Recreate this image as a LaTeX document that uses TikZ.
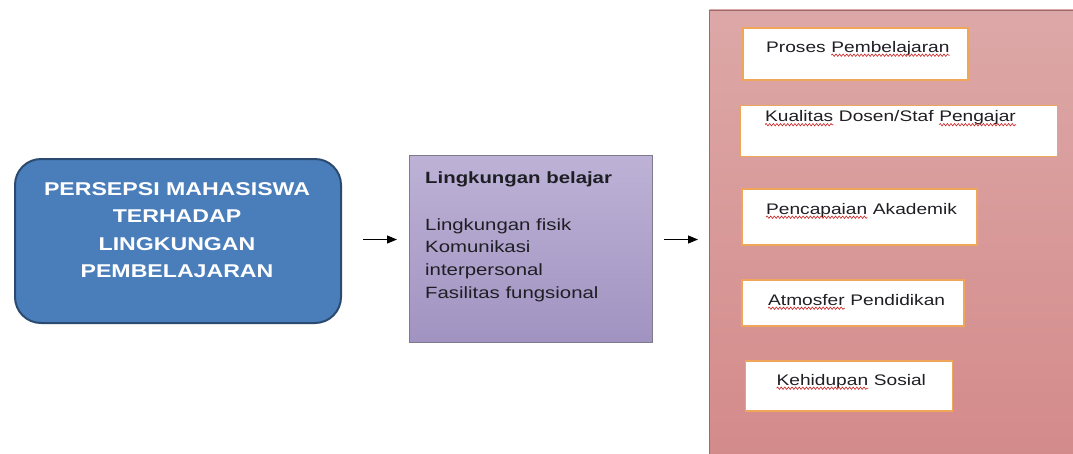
\documentclass[tikz,border=0pt]{standalone}
\usepackage{fontspec}
\setmainfont{Liberation Sans}[FakeStretch=1.25]
\usetikzlibrary{arrows.meta,decorations.pathmorphing}
\definecolor{blueFill}{HTML}{4A7EBB}
\definecolor{blueLine}{HTML}{2B4A6F}
\definecolor{purpTop}{HTML}{BDB2D6}
\definecolor{purpBot}{HTML}{A193C1}
\definecolor{purpLine}{HTML}{7F7A8C}
\definecolor{redTop}{HTML}{DCA8A7}
\definecolor{redBot}{HTML}{D48A8A}
\definecolor{redLine}{HTML}{9C6A6A}
\definecolor{orangeLine}{HTML}{EFA55A}
\definecolor{spellRed}{HTML}{C8201E}
\definecolor{textDark}{HTML}{1E1E24}
\tikzset{
  bluebox/.style={draw=blueLine, line width=2pt, fill=blueFill, rounded corners=26pt, anchor=north west, inner sep=0pt},
  bluetext/.style={text=white, align=center, font=\fontsize{18.5}{27.5}\selectfont\bfseries, inner sep=0pt},
  purplebox/.style={draw=purpLine, line width=0.8pt, top color=purpTop, bottom color=purpBot, anchor=north west, inner sep=0pt},
  redbox/.style={draw=redLine, line width=0.8pt, top color=redTop, bottom color=redBot, anchor=north west, inner sep=0pt},
  itembox/.style={draw=orangeLine, line width=1.8pt, fill=white, anchor=north west, inner sep=0pt},
  itemtext/.style={anchor=base west, inner sep=0pt, text=textDark, font=\fontsize{15.3}{18}\selectfont},
  wave/.style={draw=spellRed, line width=0.6pt, decorate, decoration={snake, segment length=3.6pt, amplitude=1.2pt}},
  arr/.style={draw=black, line width=1.1pt, -{Triangle[length=10pt,width=8pt]}},
}
\begin{document}
\begin{tikzpicture}[x=1pt,y=-1pt]
\useasboundingbox[fill=white] (0,0) rectangle (1073,453);
% left box
\node[bluebox, minimum width=326pt, minimum height=164pt] (persepsi) at (14,158) {};
\node[bluetext] (persepsiText) at (177,230) {PERSEPSI MAHASISWA\\TERHADAP\\LINGKUNGAN\\PEMBELAJARAN};
% middle box
\node[purplebox, minimum width=243pt, minimum height=187pt] (lingkungan) at (409,155) {};
\node[anchor=base west, inner sep=0pt, text=textDark, font=\fontsize{16.3}{20}\selectfont\bfseries] (lingTitle) at (425,183) {Lingkungan belajar};
\node[anchor=base west, inner sep=0pt, text=textDark, align=left, font=\fontsize{16.3}{22.8}\selectfont] (lingList) at (425,298.5) {Lingkungan fisik\\Komunikasi\\interpersonal\\Fasilitas fungsional};
% right box
\node[redbox, minimum width=370pt, minimum height=450pt] (faktor) at (709,9.5) {};
\node[itembox, minimum width=225pt, minimum height=52pt] (proses) at (742,27) {};
\node[itembox, minimum width=317pt, minimum height=51pt] (kualitas) at (739.5,104.5) {};
\node[itembox, minimum width=235pt, minimum height=56pt] (pencapaian) at (741,188) {};
\node[itembox, minimum width=222pt, minimum height=46pt] (atmosfer) at (741,279) {};
\node[itembox, minimum width=207pt, minimum height=50pt] (kehidupan) at (744.5,360) {};
% item texts
\node[itemtext] (prosesA) at (766,52) {Proses\ \null};
\node[itemtext] (prosesB) at (prosesA.base east) {Pembelajaran};
\node[itemtext] (kualitasA) at (765,121.5) {Kualitas};
\node[itemtext] (kualitasB) at (kualitasA.base east) {\ Dosen/Staf\ \null};
\node[itemtext] (kualitasC) at (kualitasB.base east) {Pengajar};
\node[itemtext] (pencapaianA) at (766,214) {Pencapaian};
\node[itemtext] (pencapaianB) at (pencapaianA.base east) {\ Akademik};
\node[itemtext] (atmosferA) at (768,305) {Atmosfer};
\node[itemtext] (atmosferB) at (atmosferA.base east) {\ Pendidikan};
\node[itemtext] (kehidupanA) at (776.5,385) {Kehidupan};
\node[itemtext] (kehidupanB) at (kehidupanA.base east) {\ Sosial};
% spell-check waves
\foreach \w in {prosesB,kualitasA,kualitasC,pencapaianA,atmosferA,kehidupanA}
  \draw[wave] ([yshift=-3.2pt]\w.base west) -- ([yshift=-3.2pt]\w.base east);
% arrows
\draw[arr] ([xshift=21pt,yshift=1.5pt]persepsi.east) -- ([xshift=-12pt,yshift=1.5pt]persepsi.east -| lingkungan.west);
\draw[arr] ([xshift=11pt,yshift=1.5pt]persepsi.east -| lingkungan.east) -- ([xshift=-11pt,yshift=1.5pt]persepsi.east -| faktor.west);
\end{tikzpicture}
\end{document}
